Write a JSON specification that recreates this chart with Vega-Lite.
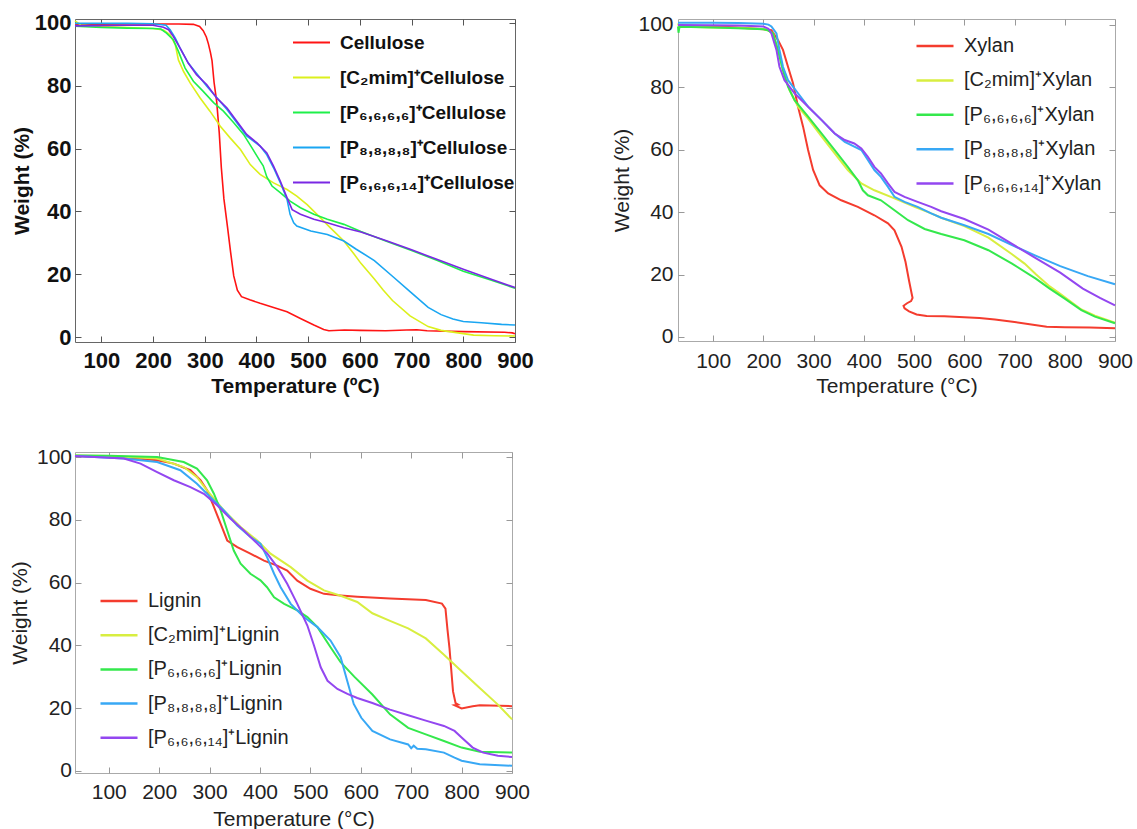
{
 "$schema": "https://vega.github.io/schema/vega-lite/v6.json",
 "background": "white",
 "padding": {"left": 8, "top": 11, "right": 0, "bottom": 0},
 "config": {
  "font": "Liberation Sans",
  "axis": {"grid": false, "domain": false, "tickSize": -6, "labelColor": "#111", "titleColor": "#111", "labelFlush": false, "labelOverlap": false}
 },
 "datasets": {
  "cel": [
   {"k":"base","t":49,"w":99.5},{"k":"base","t":150,"w":99.6},{"k":"base","t":250,"w":99.6},{"k":"base","t":278,"w":99.5},{"k":"base","t":290,"w":98.8},{"k":"base","t":297,"w":97.5},{"k":"base","t":303,"w":95.5},{"k":"base","t":307,"w":93.3},{"k":"base","t":311,"w":90.5},{"k":"base","t":314,"w":88},{"k":"base","t":318,"w":81},{"k":"base","t":323,"w":75},{"k":"base","t":328,"w":65},{"k":"base","t":332,"w":54},{"k":"base","t":337,"w":44},{"k":"base","t":344,"w":35},{"k":"base","t":350,"w":27},{"k":"base","t":356,"w":19.5},{"k":"base","t":363,"w":15},{"k":"base","t":371,"w":12.9},{"k":"base","t":387,"w":11.9},{"k":"base","t":407,"w":10.8},{"k":"base","t":433,"w":9.5},{"k":"base","t":459,"w":8.1},{"k":"base","t":485,"w":6},{"k":"base","t":511,"w":3.9},{"k":"base","t":530,"w":2.5},{"k":"base","t":540,"w":2.1},{"k":"base","t":570,"w":2.3},{"k":"base","t":600,"w":2.2},{"k":"base","t":650,"w":2.1},{"k":"base","t":690,"w":2.3},{"k":"base","t":710,"w":2.4},{"k":"base","t":730,"w":2.1},{"k":"base","t":800,"w":1.8},{"k":"base","t":880,"w":1.6},{"k":"base","t":895,"w":1.4},{"k":"base","t":900,"w":1.1},
   {"k":"C2mim","t":49,"w":100.6},{"k":"C2mim","t":60,"w":99.3},{"k":"C2mim","t":100,"w":98.8},{"k":"C2mim","t":150,"w":98.5},{"k":"C2mim","t":200,"w":98.2},{"k":"C2mim","t":220,"w":97.7},{"k":"C2mim","t":233,"w":96.2},{"k":"C2mim","t":243,"w":93},{"k":"C2mim","t":249,"w":88.2},{"k":"C2mim","t":259,"w":84.5},{"k":"C2mim","t":272,"w":80.8},{"k":"C2mim","t":291,"w":76.1},{"k":"C2mim","t":310,"w":71.9},{"k":"C2mim","t":330,"w":67.1},{"k":"C2mim","t":349,"w":63.4},{"k":"C2mim","t":369,"w":59.7},{"k":"C2mim","t":388,"w":54.9},{"k":"C2mim","t":407,"w":51.8},{"k":"C2mim","t":433,"w":49.1},{"k":"C2mim","t":459,"w":47},{"k":"C2mim","t":478,"w":44.9},{"k":"C2mim","t":498,"w":42.2},{"k":"C2mim","t":517,"w":39.1},{"k":"C2mim","t":543,"w":34.8},{"k":"C2mim","t":569,"w":30.6},{"k":"C2mim","t":589,"w":26.4},{"k":"C2mim","t":602,"w":23.5},{"k":"C2mim","t":628,"w":18.5},{"k":"C2mim","t":645,"w":15},{"k":"C2mim","t":663,"w":11.7},{"k":"C2mim","t":697,"w":6.8},{"k":"C2mim","t":732,"w":3.4},{"k":"C2mim","t":757,"w":2.2},{"k":"C2mim","t":790,"w":1.4},{"k":"C2mim","t":820,"w":0.7},{"k":"C2mim","t":860,"w":0.5},{"k":"C2mim","t":900,"w":0.4},
   {"k":"P6666","t":49,"w":98.9},{"k":"P6666","t":100,"w":98.5},{"k":"P6666","t":150,"w":98.3},{"k":"P6666","t":200,"w":98.2},{"k":"P6666","t":215,"w":98},{"k":"P6666","t":226,"w":96.7},{"k":"P6666","t":239,"w":94.6},{"k":"P6666","t":249,"w":90.9},{"k":"P6666","t":262,"w":85.6},{"k":"P6666","t":278,"w":81.4},{"k":"P6666","t":297,"w":78.2},{"k":"P6666","t":317,"w":74.6},{"k":"P6666","t":336,"w":71.9},{"k":"P6666","t":356,"w":68.2},{"k":"P6666","t":375,"w":64.5},{"k":"P6666","t":391,"w":60.3},{"k":"P6666","t":407,"w":56},{"k":"P6666","t":413,"w":54.5},{"k":"P6666","t":420,"w":51},{"k":"P6666","t":430,"w":48.1},{"k":"P6666","t":446,"w":46},{"k":"P6666","t":465,"w":43.3},{"k":"P6666","t":485,"w":41.2},{"k":"P6666","t":511,"w":39.1},{"k":"P6666","t":537,"w":37.5},{"k":"P6666","t":569,"w":35.9},{"k":"P6666","t":602,"w":33.6},{"k":"P6666","t":650,"w":30.6},{"k":"P6666","t":700,"w":27.6},{"k":"P6666","t":750,"w":24.4},{"k":"P6666","t":800,"w":21},{"k":"P6666","t":850,"w":18.4},{"k":"P6666","t":900,"w":15.6},
   {"k":"P8888","t":49,"w":99.8},{"k":"P8888","t":100,"w":99.8},{"k":"P8888","t":150,"w":99.8},{"k":"P8888","t":200,"w":99.7},{"k":"P8888","t":225,"w":99.2},{"k":"P8888","t":233,"w":97.8},{"k":"P8888","t":243,"w":95.1},{"k":"P8888","t":252,"w":92},{"k":"P8888","t":268,"w":87.2},{"k":"P8888","t":304,"w":79.8},{"k":"P8888","t":343,"w":72.4},{"k":"P8888","t":381,"w":64},{"k":"P8888","t":407,"w":60.8},{"k":"P8888","t":420,"w":58},{"k":"P8888","t":433,"w":53.9},{"k":"P8888","t":446,"w":49.2},{"k":"P8888","t":459,"w":43.9},{"k":"P8888","t":465,"w":39.1},{"k":"P8888","t":472,"w":36.4},{"k":"P8888","t":478,"w":35.4},{"k":"P8888","t":505,"w":33.8},{"k":"P8888","t":537,"w":32.7},{"k":"P8888","t":569,"w":30.6},{"k":"P8888","t":593,"w":28},{"k":"P8888","t":628,"w":24.4},{"k":"P8888","t":663,"w":19.4},{"k":"P8888","t":697,"w":14.5},{"k":"P8888","t":732,"w":9.5},{"k":"P8888","t":757,"w":7.2},{"k":"P8888","t":780,"w":5.8},{"k":"P8888","t":800,"w":5},{"k":"P8888","t":835,"w":4.6},{"k":"P8888","t":874,"w":4.1},{"k":"P8888","t":900,"w":3.9},
   {"k":"P66614","t":49,"w":99},{"k":"P66614","t":100,"w":99.1},{"k":"P66614","t":150,"w":99.2},{"k":"P66614","t":200,"w":99.2},{"k":"P66614","t":220,"w":98.6},{"k":"P66614","t":230,"w":97.8},{"k":"P66614","t":239,"w":95.7},{"k":"P66614","t":252,"w":92},{"k":"P66614","t":268,"w":87.2},{"k":"P66614","t":284,"w":83.5},{"k":"P66614","t":304,"w":80.3},{"k":"P66614","t":323,"w":76.1},{"k":"P66614","t":343,"w":72.9},{"k":"P66614","t":362,"w":68.7},{"k":"P66614","t":381,"w":64.5},{"k":"P66614","t":401,"w":61.8},{"k":"P66614","t":420,"w":58.6},{"k":"P66614","t":433,"w":54.4},{"k":"P66614","t":446,"w":49.7},{"k":"P66614","t":459,"w":44.4},{"k":"P66614","t":469,"w":40.6},{"k":"P66614","t":485,"w":39.1},{"k":"P66614","t":511,"w":37.5},{"k":"P66614","t":537,"w":36.4},{"k":"P66614","t":569,"w":34.8},{"k":"P66614","t":602,"w":33.5},{"k":"P66614","t":650,"w":30.8},{"k":"P66614","t":700,"w":27.8},{"k":"P66614","t":750,"w":24.7},{"k":"P66614","t":800,"w":21.6},{"k":"P66614","t":850,"w":18.7},{"k":"P66614","t":900,"w":15.8}
  ],
  "xyl": [
   {"k":"base","t":30,"w":99.8},{"k":"base","t":100,"w":99.6},{"k":"base","t":150,"w":99.2},{"k":"base","t":200,"w":98.6},{"k":"base","t":216,"w":98.3},{"k":"base","t":229,"w":95.2},{"k":"base","t":239,"w":92},{"k":"base","t":249,"w":86.6},{"k":"base","t":259,"w":81.3},{"k":"base","t":269,"w":73.8},{"k":"base","t":279,"w":67.4},{"k":"base","t":289,"w":59.9},{"k":"base","t":299,"w":53.5},{"k":"base","t":312,"w":48.6},{"k":"base","t":329,"w":46},{"k":"base","t":355,"w":43.8},{"k":"base","t":388,"w":41.7},{"k":"base","t":421,"w":39},{"k":"base","t":448,"w":36.4},{"k":"base","t":461,"w":34.2},{"k":"base","t":475,"w":28.9},{"k":"base","t":483,"w":24},{"k":"base","t":490,"w":18},{"k":"base","t":495,"w":14},{"k":"base","t":497,"w":12.5},{"k":"base","t":494,"w":11.5},{"k":"base","t":486,"w":10.8},{"k":"base","t":479,"w":10},{"k":"base","t":481,"w":9.2},{"k":"base","t":490,"w":8.2},{"k":"base","t":505,"w":7.2},{"k":"base","t":525,"w":6.7},{"k":"base","t":560,"w":6.6},{"k":"base","t":600,"w":6.3},{"k":"base","t":630,"w":6.1},{"k":"base","t":661,"w":5.6},{"k":"base","t":700,"w":4.8},{"k":"base","t":730,"w":4.1},{"k":"base","t":764,"w":3.3},{"k":"base","t":800,"w":3.1},{"k":"base","t":850,"w":3},{"k":"base","t":900,"w":2.8},
   {"k":"C2mim","t":30,"w":100.5},{"k":"C2mim","t":32,"w":99.5},{"k":"C2mim","t":100,"w":99.2},{"k":"C2mim","t":150,"w":99},{"k":"C2mim","t":200,"w":98.7},{"k":"C2mim","t":210,"w":98.2},{"k":"C2mim","t":219,"w":97.3},{"k":"C2mim","t":229,"w":92},{"k":"C2mim","t":239,"w":85.5},{"k":"C2mim","t":252,"w":79.1},{"k":"C2mim","t":269,"w":73.8},{"k":"C2mim","t":289,"w":70},{"k":"C2mim","t":316,"w":64.2},{"k":"C2mim","t":342,"w":58.8},{"k":"C2mim","t":368,"w":53.5},{"k":"C2mim","t":395,"w":49.2},{"k":"C2mim","t":421,"w":47},{"k":"C2mim","t":461,"w":44.4},{"k":"C2mim","t":501,"w":41.7},{"k":"C2mim","t":534,"w":39.6},{"k":"C2mim","t":554,"w":38.2},{"k":"C2mim","t":600,"w":35.5},{"k":"C2mim","t":648,"w":31.8},{"k":"C2mim","t":695,"w":26.5},{"k":"C2mim","t":720,"w":23.5},{"k":"C2mim","t":743,"w":20},{"k":"C2mim","t":770,"w":16.2},{"k":"C2mim","t":791,"w":13.8},{"k":"C2mim","t":833,"w":8.8},{"k":"C2mim","t":860,"w":6.8},{"k":"C2mim","t":900,"w":4.6},
   {"k":"P6666","t":30,"w":99.5},{"k":"P6666","t":31,"w":97.5},{"k":"P6666","t":33,"w":99.4},{"k":"P6666","t":100,"w":99.2},{"k":"P6666","t":150,"w":98.9},{"k":"P6666","t":200,"w":98.6},{"k":"P6666","t":210,"w":98.2},{"k":"P6666","t":219,"w":97.3},{"k":"P6666","t":229,"w":92},{"k":"P6666","t":239,"w":85.5},{"k":"P6666","t":249,"w":80.2},{"k":"P6666","t":262,"w":75.9},{"k":"P6666","t":289,"w":70.6},{"k":"P6666","t":316,"w":65.2},{"k":"P6666","t":342,"w":59.9},{"k":"P6666","t":368,"w":54.5},{"k":"P6666","t":388,"w":50.2},{"k":"P6666","t":398,"w":47},{"k":"P6666","t":408,"w":45.4},{"k":"P6666","t":434,"w":43.8},{"k":"P6666","t":461,"w":40.6},{"k":"P6666","t":488,"w":37.4},{"k":"P6666","t":521,"w":34.6},{"k":"P6666","t":554,"w":33},{"k":"P6666","t":600,"w":31},{"k":"P6666","t":648,"w":27.8},{"k":"P6666","t":695,"w":23.5},{"k":"P6666","t":743,"w":18.6},{"k":"P6666","t":770,"w":15.5},{"k":"P6666","t":800,"w":12.3},{"k":"P6666","t":833,"w":8.6},{"k":"P6666","t":860,"w":6.5},{"k":"P6666","t":900,"w":4.4},
   {"k":"P8888","t":30,"w":100.7},{"k":"P8888","t":100,"w":100.7},{"k":"P8888","t":150,"w":100.6},{"k":"P8888","t":200,"w":100.4},{"k":"P8888","t":210,"w":100.1},{"k":"P8888","t":216,"w":99.5},{"k":"P8888","t":226,"w":97.3},{"k":"P8888","t":232,"w":92},{"k":"P8888","t":239,"w":86.6},{"k":"P8888","t":249,"w":82.3},{"k":"P8888","t":269,"w":78.1},{"k":"P8888","t":289,"w":73.8},{"k":"P8888","t":316,"w":69.5},{"k":"P8888","t":342,"w":65.2},{"k":"P8888","t":362,"w":62.5},{"k":"P8888","t":381,"w":61},{"k":"P8888","t":395,"w":59.9},{"k":"P8888","t":408,"w":56.7},{"k":"P8888","t":421,"w":53.5},{"k":"P8888","t":434,"w":51.3},{"k":"P8888","t":448,"w":48.1},{"k":"P8888","t":461,"w":44.9},{"k":"P8888","t":481,"w":43.3},{"k":"P8888","t":507,"w":41.7},{"k":"P8888","t":534,"w":39.6},{"k":"P8888","t":554,"w":38.2},{"k":"P8888","t":600,"w":35.8},{"k":"P8888","t":648,"w":33},{"k":"P8888","t":695,"w":29.4},{"k":"P8888","t":743,"w":26},{"k":"P8888","t":791,"w":22.7},{"k":"P8888","t":846,"w":19.5},{"k":"P8888","t":900,"w":16.9},
   {"k":"P66614","t":30,"w":100},{"k":"P66614","t":100,"w":99.9},{"k":"P66614","t":150,"w":99.8},{"k":"P66614","t":200,"w":99.5},{"k":"P66614","t":210,"w":98.8},{"k":"P66614","t":216,"w":97.3},{"k":"P66614","t":226,"w":92},{"k":"P66614","t":232,"w":86.6},{"k":"P66614","t":242,"w":82.3},{"k":"P66614","t":262,"w":78.1},{"k":"P66614","t":289,"w":73.8},{"k":"P66614","t":316,"w":69.5},{"k":"P66614","t":342,"w":65.2},{"k":"P66614","t":362,"w":63.1},{"k":"P66614","t":381,"w":62},{"k":"P66614","t":395,"w":60.4},{"k":"P66614","t":408,"w":57.7},{"k":"P66614","t":421,"w":54.5},{"k":"P66614","t":434,"w":52.4},{"k":"P66614","t":448,"w":49.2},{"k":"P66614","t":461,"w":46.5},{"k":"P66614","t":481,"w":44.9},{"k":"P66614","t":507,"w":43.3},{"k":"P66614","t":534,"w":41.7},{"k":"P66614","t":554,"w":40.3},{"k":"P66614","t":600,"w":37.8},{"k":"P66614","t":648,"w":34.4},{"k":"P66614","t":695,"w":29.8},{"k":"P66614","t":743,"w":25.2},{"k":"P66614","t":791,"w":20.6},{"k":"P66614","t":836,"w":15.5},{"k":"P66614","t":870,"w":12.5},{"k":"P66614","t":900,"w":10.1}
  ],
  "lig": [
   {"k":"base","t":33,"w":100.3},{"k":"base","t":64,"w":100.1},{"k":"base","t":130,"w":99.9},{"k":"base","t":196,"w":99},{"k":"base","t":229,"w":97.9},{"k":"base","t":262,"w":95.8},{"k":"base","t":282,"w":92.6},{"k":"base","t":295,"w":89.4},{"k":"base","t":308.6,"w":84.1},{"k":"base","t":322,"w":78.7},{"k":"base","t":335,"w":73.4},{"k":"base","t":355,"w":71.3},{"k":"base","t":381,"w":69.2},{"k":"base","t":408,"w":67},{"k":"base","t":434,"w":65.4},{"k":"base","t":454,"w":63.8},{"k":"base","t":474,"w":60.6},{"k":"base","t":500,"w":58},{"k":"base","t":527,"w":56.4},{"k":"base","t":560,"w":55.9},{"k":"base","t":593,"w":55.5},{"k":"base","t":658,"w":54.9},{"k":"base","t":729,"w":54.4},{"k":"base","t":761,"w":53.3},{"k":"base","t":768,"w":51.7},{"k":"base","t":772,"w":45},{"k":"base","t":776,"w":39},{"k":"base","t":783,"w":25.3},{"k":"base","t":788,"w":21.6},{"k":"base","t":793,"w":21.1},{"k":"base","t":786,"w":20.9},{"k":"base","t":800,"w":19.9},{"k":"base","t":822,"w":20.6},{"k":"base","t":836,"w":20.9},{"k":"base","t":900,"w":20.6},
   {"k":"C2mim","t":33,"w":100.5},{"k":"C2mim","t":100,"w":100.3},{"k":"C2mim","t":196,"w":99.5},{"k":"C2mim","t":249,"w":96.8},{"k":"C2mim","t":275,"w":93.6},{"k":"C2mim","t":295,"w":89.4},{"k":"C2mim","t":328.5,"w":83},{"k":"C2mim","t":361.6,"w":77.7},{"k":"C2mim","t":394.7,"w":73.4},{"k":"C2mim","t":421,"w":69.2},{"k":"C2mim","t":461,"w":64.9},{"k":"C2mim","t":494,"w":60.6},{"k":"C2mim","t":527,"w":57.5},{"k":"C2mim","t":560,"w":55.8},{"k":"C2mim","t":593,"w":53.8},{"k":"C2mim","t":623,"w":50.2},{"k":"C2mim","t":658,"w":47.8},{"k":"C2mim","t":694,"w":45.4},{"k":"C2mim","t":729,"w":42.2},{"k":"C2mim","t":765,"w":37},{"k":"C2mim","t":800,"w":31.7},{"k":"C2mim","t":836,"w":26.4},{"k":"C2mim","t":872,"w":21.1},{"k":"C2mim","t":900,"w":16.4},
   {"k":"P6666","t":33,"w":100.5},{"k":"P6666","t":100,"w":100.4},{"k":"P6666","t":196,"w":100},{"k":"P6666","t":248.7,"w":98.4},{"k":"P6666","t":275,"w":96.3},{"k":"P6666","t":295,"w":92.6},{"k":"P6666","t":308.6,"w":88.3},{"k":"P6666","t":322,"w":83},{"k":"P6666","t":335,"w":76.6},{"k":"P6666","t":348,"w":70.2},{"k":"P6666","t":361.6,"w":66},{"k":"P6666","t":381,"w":62.8},{"k":"P6666","t":401,"w":60.7},{"k":"P6666","t":414,"w":58.5},{"k":"P6666","t":428,"w":55.3},{"k":"P6666","t":448,"w":53.2},{"k":"P6666","t":474,"w":51.1},{"k":"P6666","t":494,"w":49},{"k":"P6666","t":514,"w":45.8},{"k":"P6666","t":540,"w":39.4},{"k":"P6666","t":560,"w":34.6},{"k":"P6666","t":587,"w":30},{"k":"P6666","t":623,"w":24.3},{"k":"P6666","t":658,"w":18},{"k":"P6666","t":694,"w":13.7},{"k":"P6666","t":729,"w":11.6},{"k":"P6666","t":765,"w":9.5},{"k":"P6666","t":800,"w":7.4},{"k":"P6666","t":836,"w":6.1},{"k":"P6666","t":900,"w":5.8},
   {"k":"P8888","t":33,"w":100.3},{"k":"P8888","t":130,"w":99.5},{"k":"P8888","t":196,"w":98.4},{"k":"P8888","t":242,"w":95.8},{"k":"P8888","t":275,"w":91.5},{"k":"P8888","t":302,"w":87.2},{"k":"P8888","t":328.5,"w":83},{"k":"P8888","t":355,"w":78.2},{"k":"P8888","t":381,"w":74.5},{"k":"P8888","t":401,"w":72.4},{"k":"P8888","t":414,"w":68.1},{"k":"P8888","t":428,"w":62.8},{"k":"P8888","t":441,"w":58.5},{"k":"P8888","t":461,"w":53.2},{"k":"P8888","t":487,"w":49},{"k":"P8888","t":514,"w":45.8},{"k":"P8888","t":540,"w":41.5},{"k":"P8888","t":560,"w":36.2},{"k":"P8888","t":573,"w":28.7},{"k":"P8888","t":586,"w":21.3},{"k":"P8888","t":601,"w":16.9},{"k":"P8888","t":623,"w":12.7},{"k":"P8888","t":658,"w":10},{"k":"P8888","t":694,"w":8.4},{"k":"P8888","t":700,"w":7.2},{"k":"P8888","t":705,"w":8},{"k":"P8888","t":712,"w":7},{"k":"P8888","t":729,"w":6.9},{"k":"P8888","t":765,"w":5.8},{"k":"P8888","t":786,"w":4.2},{"k":"P8888","t":800,"w":3.2},{"k":"P8888","t":836,"w":2.1},{"k":"P8888","t":900,"w":1.6},
   {"k":"P66614","t":33,"w":100.3},{"k":"P66614","t":130,"w":99.5},{"k":"P66614","t":163,"w":97.9},{"k":"P66614","t":196,"w":95.2},{"k":"P66614","t":229,"w":92.6},{"k":"P66614","t":262,"w":90.4},{"k":"P66614","t":288.7,"w":88.3},{"k":"P66614","t":315,"w":84.6},{"k":"P66614","t":341.7,"w":80.3},{"k":"P66614","t":368,"w":76.6},{"k":"P66614","t":394.7,"w":72.4},{"k":"P66614","t":414.6,"w":69.2},{"k":"P66614","t":434.4,"w":64.9},{"k":"P66614","t":454,"w":59.6},{"k":"P66614","t":474,"w":53.2},{"k":"P66614","t":494,"w":46.3},{"k":"P66614","t":507,"w":40},{"k":"P66614","t":520.5,"w":33},{"k":"P66614","t":534,"w":28.7},{"k":"P66614","t":553.6,"w":26.1},{"k":"P66614","t":573.5,"w":24.5},{"k":"P66614","t":593,"w":23.2},{"k":"P66614","t":623,"w":21.6},{"k":"P66614","t":658,"w":19.5},{"k":"P66614","t":694,"w":17.7},{"k":"P66614","t":729,"w":16},{"k":"P66614","t":765,"w":14.3},{"k":"P66614","t":786,"w":12.7},{"k":"P66614","t":800,"w":10.6},{"k":"P66614","t":822,"w":7.4},{"k":"P66614","t":843,"w":5.8},{"k":"P66614","t":872,"w":4.8},{"k":"P66614","t":900,"w":4.4}
  ]
 },
 "resolve": {"scale": {"color": "independent"}, "legend": {"color": "independent"}},
 "spacing": 48,
 "vconcat": [
  {
   "hconcat": [
    {
     "width": 440, "height": 323,
     "view": {"stroke": "#666", "strokeWidth": 1},
     "data": {"name": "cel"},
     "layer": [
      {
       "mark": {"type": "line", "strokeWidth": 1.6},
       "encoding": {
        "x": {"field": "t", "type": "quantitative", "scale": {"domain": [49, 900], "nice": false, "zero": false},
              "axis": {"orient": "bottom", "values": [100,200,300,400,500,600,700,800,900], "title": "Temperature (ºC)", "labelFontSize": 22, "labelFontWeight": "bold", "titleFontSize": 21, "titleFontWeight": "bold", "labelPadding": 14, "titlePadding": 4, "tickColor": "#555"}},
        "y": {"field": "w", "type": "quantitative", "scale": {"domain": [-1.5, 101.2], "nice": false, "zero": false},
              "axis": {"orient": "left", "values": [0,20,40,60,80,100], "title": "Weight (%)", "labelFontSize": 22, "labelFontWeight": "bold", "titleFontSize": 21, "titleFontWeight": "bold", "labelPadding": 10, "titlePadding": 2, "tickColor": "#555"}},
        "color": {"field": "k", "type": "nominal",
                  "scale": {"domain": ["base","C2mim","P6666","P8888","P66614"], "range": ["#ff1414","#dcf01c","#1ef04a","#1aa6f2","#7a28e4"]},
                  "legend": {"orient": "none", "legendX": 217, "legendY": 4, "title": null, "symbolType": "stroke", "symbolSize": 1369, "symbolStrokeWidth": 2, "labelFontSize": 19, "labelFontWeight": "bold", "labelColor": "#111", "labelOffset": 9, "rowPadding": 5, "padding": 0, "labelLimit": 400,
                             "labelExpr": "datum.label == 'base' ? 'Cellulose' : datum.label == 'C2mim' ? '[C₂mim]⁺Cellulose' : datum.label == 'P6666' ? '[P₆,₆,₆,₆]⁺Cellulose' : datum.label == 'P8888' ? '[P₈,₈,₈,₈]⁺Cellulose' : '[P₆,₆,₆,₁₄]⁺Cellulose'"}},
        "order": {"value": null}
       }
      },
      {
       "mark": {"type": "point", "opacity": 0},
       "encoding": {
        "x": {"field": "t", "type": "quantitative", "axis": {"orient": "top", "labels": false, "title": null, "values": [100,200,300,400,500,600,700,800,900], "tickColor": "#555"}},
        "y": {"field": "w", "type": "quantitative", "axis": {"orient": "right", "labels": false, "title": null, "values": [0,20,40,60,80,100], "tickColor": "#555"}}
       }
      }
     ],
     "resolve": {"axis": {"x": "independent", "y": "independent"}}
    },
    {
     "width": 437, "height": 322,
     "view": {"stroke": "#aaa", "strokeWidth": 1},
     "data": {"name": "xyl"},
     "layer": [
      {
       "mark": {"type": "line", "strokeWidth": 2},
       "encoding": {
        "x": {"field": "t", "type": "quantitative", "scale": {"domain": [30, 900], "nice": false, "zero": false},
              "axis": {"orient": "bottom", "values": [100,200,300,400,500,600,700,800,900], "title": "Temperature (°C)", "labelFontSize": 21, "titleFontSize": 21, "titleFontWeight": "normal", "labelPadding": 15, "titlePadding": 4, "tickColor": "#999", "labelColor": "#222", "titleColor": "#222"}},
        "y": {"field": "w", "type": "quantitative", "scale": {"domain": [-1.3, 101.9], "nice": false, "zero": false},
              "axis": {"orient": "left", "values": [0,20,40,60,80,100], "title": "Weight (%)", "labelFontSize": 21, "titleFontSize": 21, "titleFontWeight": "normal", "labelPadding": 11, "titlePadding": 5, "tickColor": "#999", "labelColor": "#222", "titleColor": "#222"}},
        "color": {"field": "k", "type": "nominal",
                  "scale": {"domain": ["base","C2mim","P6666","P8888","P66614"], "range": ["#f43c2e","#d8ee40","#34e84c","#38a8f5","#9347f0"]},
                  "legend": {"orient": "none", "legendX": 237, "legendY": 7, "title": null, "symbolType": "stroke", "symbolSize": 1369, "symbolStrokeWidth": 2.5, "labelFontSize": 20, "labelColor": "#222", "labelOffset": 9, "rowPadding": 4.4, "padding": 0, "labelLimit": 400,
                             "labelExpr": "datum.label == 'base' ? 'Xylan' : datum.label == 'C2mim' ? '[C₂mim]⁺Xylan' : datum.label == 'P6666' ? '[P₆,₆,₆,₆]⁺Xylan' : datum.label == 'P8888' ? '[P₈,₈,₈,₈]⁺Xylan' : '[P₆,₆,₆,₁₄]⁺Xylan'"}},
        "order": {"value": null}
       }
      },
      {
       "mark": {"type": "point", "opacity": 0},
       "encoding": {
        "x": {"field": "t", "type": "quantitative", "axis": {"orient": "top", "labels": false, "title": null, "values": [100,200,300,400,500,600,700,800,900], "tickColor": "#999"}},
        "y": {"field": "w", "type": "quantitative", "axis": {"orient": "right", "labels": false, "title": null, "values": [0,20,40,60,80,100], "tickColor": "#999"}}
       }
      }
     ],
     "resolve": {"axis": {"x": "independent", "y": "independent"}}
    }
   ],
   "spacing": 77,
   "resolve": {"scale": {"color": "independent"}, "legend": {"color": "independent"}}
  },
  {
   "width": 437, "height": 321,
   "view": {"stroke": "#aaa", "strokeWidth": 1},
   "data": {"name": "lig"},
   "layer": [
    {
     "mark": {"type": "line", "strokeWidth": 2},
     "encoding": {
      "x": {"field": "t", "type": "quantitative", "scale": {"domain": [33, 900], "nice": false, "zero": false},
            "axis": {"orient": "bottom", "values": [100,200,300,400,500,600,700,800,900], "title": "Temperature (°C)", "labelFontSize": 21, "titleFontSize": 21, "titleFontWeight": "normal", "labelPadding": 14, "titlePadding": 6, "tickColor": "#999", "labelColor": "#222", "titleColor": "#222"}},
      "y": {"field": "w", "type": "quantitative", "scale": {"domain": [-0.7, 101.6], "nice": false, "zero": false},
            "axis": {"orient": "left", "values": [0,20,40,60,80,100], "title": "Weight (%)", "labelFontSize": 21, "titleFontSize": 21, "titleFontWeight": "normal", "labelPadding": 9.5, "titlePadding": 6, "tickColor": "#999", "labelColor": "#222", "titleColor": "#222"}},
      "color": {"field": "k", "type": "nominal",
                "scale": {"domain": ["base","C2mim","P6666","P8888","P66614"], "range": ["#f43c2e","#d8ee40","#34e84c","#38a8f5","#9347f0"]},
                "legend": {"orient": "none", "legendX": 24, "legendY": 129, "title": null, "symbolType": "stroke", "symbolSize": 1369, "symbolStrokeWidth": 2.5, "labelFontSize": 20, "labelColor": "#222", "labelOffset": 9, "rowPadding": 4.2, "padding": 0, "labelLimit": 400,
                           "labelExpr": "datum.label == 'base' ? 'Lignin' : datum.label == 'C2mim' ? '[C₂mim]⁺Lignin' : datum.label == 'P6666' ? '[P₆,₆,₆,₆]⁺Lignin' : datum.label == 'P8888' ? '[P₈,₈,₈,₈]⁺Lignin' : '[P₆,₆,₆,₁₄]⁺Lignin'"}},
      "order": {"value": null}
     }
    },
    {
     "mark": {"type": "point", "opacity": 0},
     "encoding": {
      "x": {"field": "t", "type": "quantitative", "axis": {"orient": "top", "labels": false, "title": null, "values": [100,200,300,400,500,600,700,800,900], "tickColor": "#999"}},
      "y": {"field": "w", "type": "quantitative", "axis": {"orient": "right", "labels": false, "title": null, "values": [0,20,40,60,80,100], "tickColor": "#999"}}
     }
    }
   ],
   "resolve": {"axis": {"x": "independent", "y": "independent"}}
  }
 ]
}
